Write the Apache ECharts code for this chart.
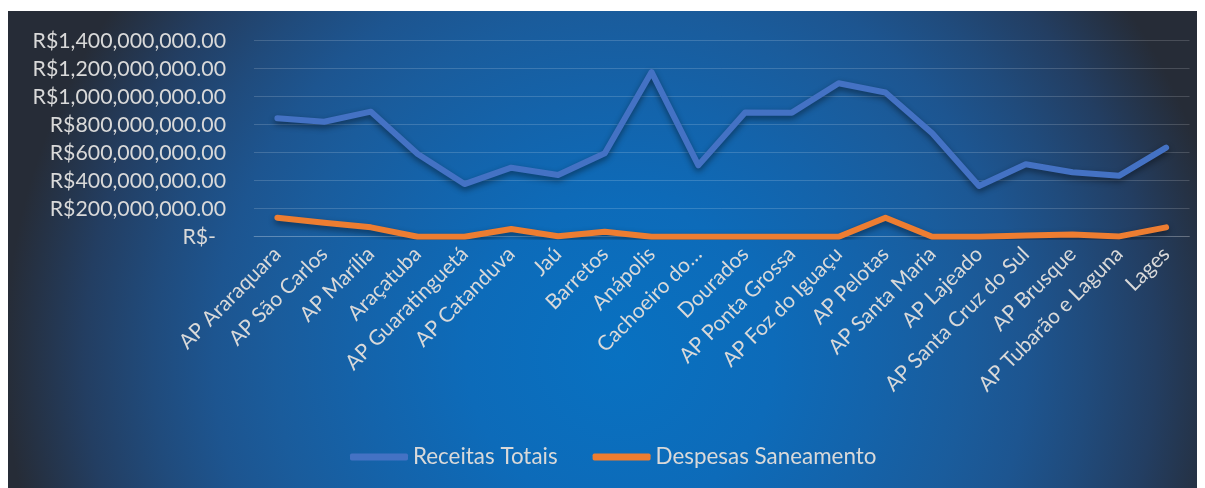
<!DOCTYPE html>
<html>
<head>
<meta charset="utf-8">
<script src="https://cdn.jsdelivr.net/npm/echarts@6/dist/echarts.min.js"></script>
<style>
  html, body { margin: 0; padding: 0; background: #ffffff; }
  #wrap { position: relative; width: 1205px; height: 488px; overflow: hidden; }
  #bg {
    position: absolute; left: 8px; top: 11px; width: 1189px; height: 477px;
    background: radial-gradient(circle 615px at 612px 345px,
      #0871c1 0%, #0d6bb9 25%, #1463aa 42%, #1a5c9c 56%, #1d5590 66%,
      #204b7c 76%, #233e62 87%, #262c37 100%);
  }
  #chart { position: absolute; left: 0; top: 0; width: 1205px; height: 488px; }
</style>
</head>
<body>
<div id="wrap">
  <div id="bg"></div>
  <div id="chart"></div>
</div>
<script>
// Agency names along the category axis
const categories = [
  'AP Araraquara', 'AP São Carlos', 'AP Marília', 'Araçatuba', 'AP Guaratinguetá',
  'AP Catanduva', 'Jaú', 'Barretos', 'Anápolis', 'Cachoeiro do…',
  'Dourados', 'AP Ponta Grossa', 'AP Foz do Iguaçu', 'AP Pelotas', 'AP Santa Maria',
  'AP Lajeado', 'AP Santa Cruz do Sul', 'AP Brusque', 'AP Tubarão e Laguna', 'Lages'
];

// Total revenue per agency (R$)
const receitasTotais = [
  846000000, 821000000, 893000000, 591000000, 376000000,
  493000000, 441000000, 596000000, 1176000000, 510000000,
  887000000, 886000000, 1096000000, 1030000000, 739000000,
  362000000, 517000000, 460000000, 436000000, 636000000
];

// Sanitation spending per agency (R$)
const despesasSaneamento = [
  136000000, 100000000, 67000000, 0, 0,
  55000000, 3000000, 36000000, 0, 0,
  0, 0, 0, 136000000, 0,
  0, 8000000, 15000000, 2000000, 67000000
];

const seriesNames = ['Receitas Totais', 'Despesas Saneamento'];
const yTicks = { min: 0, max: 1400000000, step: 200000000 };

const FONT = 'Lato';
const TEXT = '#d9d9d9';

function brl(v) {
  if (v === 0) return '{z|R$-}';
  const s = Math.round(v).toString().replace(/\B(?=(\d{3})+(?!\d))/g, ',');
  return 'R$' + s + '.00';
}

const chart = echarts.init(document.getElementById('chart'), null, { renderer: 'canvas' });

const lineShadow = { shadowColor: 'rgba(0,0,0,0.45)', shadowBlur: 6, shadowOffsetY: 3 };

chart.setOption({
  backgroundColor: 'transparent',
  animation: false,
  grid: { left: 254, right: 15.5, top: 40.7, bottom: 251.3, containLabel: false },
  xAxis: {
    type: 'category',
    data: categories,
    boundaryGap: true,
    axisLine: { show: true, lineStyle: { color: 'rgba(255,255,255,0.16)', width: 1 } },
    axisTick: { show: false },
    axisLabel: {
      interval: 0, rotate: 45, margin: 14,
      color: TEXT, fontFamily: FONT, fontSize: 21
    }
  },
  yAxis: {
    type: 'value',
    min: yTicks.min, max: yTicks.max, interval: yTicks.step,
    axisLine: { show: false },
    axisTick: { show: false },
    splitLine: { lineStyle: { color: 'rgba(255,255,255,0.16)', width: 1 } },
    axisLabel: {
      margin: 28, color: TEXT, fontFamily: FONT, fontSize: 21.3,
      formatter: brl,
      rich: { z: { color: TEXT, fontFamily: FONT, fontSize: 21.3, padding: [0, 10, 0, 0] } }
    }
  },
  legend: {
    left: 350, top: 446, padding: 0,
    itemWidth: 58, itemHeight: 7, itemGap: 35,
    icon: 'roundRect',
    textStyle: { color: TEXT, fontFamily: FONT, fontSize: 22.4 },
    data: seriesNames
  },
  series: [
    {
      name: seriesNames[0], type: 'line', data: receitasTotais,
      symbol: 'none', color: '#4472c4',
      lineStyle: Object.assign({ width: 6, color: '#4472c4', cap: 'round', join: 'round' }, lineShadow)
    },
    {
      name: seriesNames[1], type: 'line', data: despesasSaneamento,
      symbol: 'none', color: '#ed7d31',
      lineStyle: Object.assign({ width: 6, color: '#ed7d31', cap: 'round', join: 'round' }, lineShadow)
    }
  ]
});
</script>
</body>
</html>
